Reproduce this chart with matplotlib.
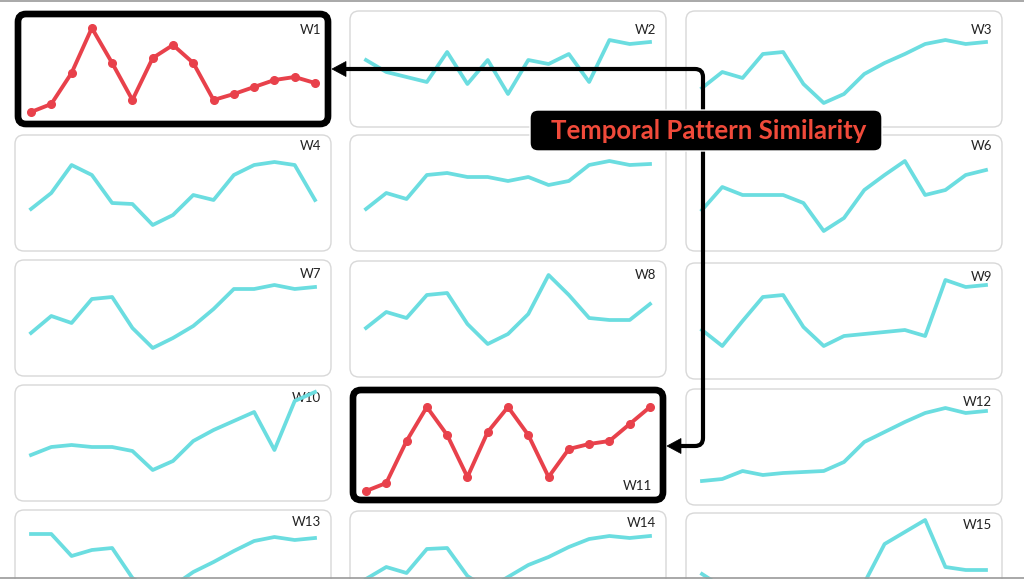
import numpy as np
import matplotlib.pyplot as plt
from matplotlib.patches import FancyBboxPatch, Polygon, PathPatch
from matplotlib.path import Path

plt.rcParams['font.family'] = ['Lato', 'DejaVu Sans']

W, H = 1024, 579

# weekly profiles (height above panel floor)
names = ['W1', 'W2', 'W3', 'W4', 'W5', 'W6', 'W7', 'W8', 'W9', 'W10',
         'W11', 'W12', 'W13', 'W14', 'W15']
w1 = [15, 23, 54, 99, 64, 27, 69, 82, 64, 27, 33, 40, 47, 50, 44]
w2 = [67, 55, 50, 45, 75, 43, 67, 33, 67, 63, 73, 45, 87, 83, 85]
w3 = [39, 55, 49, 73, 75, 43, 24, 33, 53, 64, 73, 83, 87, 83, 85]
w4 = [42, 58, 86, 76, 48, 47, 26, 36, 56, 51, 76, 86, 89, 86, 51]
w5 = [42, 58, 52, 76, 78, 74, 74, 70, 74, 66, 70, 86, 90, 86, 87]
w6 = [41, 64, 56, 56, 56, 48, 20, 33, 61, 76, 90, 56, 61, 76, 81]
w7 = [43, 60, 53, 77, 79, 48, 28, 38, 50, 67, 87, 87, 91, 87, 89]
w8 = [49, 65, 59, 82, 84, 53, 33, 43, 63, 102, 82, 59, 57, 57, 73]
w9 = [49, 33, 58, 82, 84, 52, 33, 43, 45, 47, 49, 43, 99, 92, 94]
w10 = [46, 54, 56, 54, 54, 50, 31, 40, 60, 71, 80, 89, 51, 100, 109]
w11 = [12, 20, 62, 96, 68, 26, 71, 96, 68, 26, 54, 59, 62, 79, 96]
w12 = [24, 26, 34, 30, 32, 33, 34, 43, 63, 73, 83, 92, 97, 92, 94]
w13 = [92, 92, 70, 76, 78, 48, 35, 40, 54, 64, 75, 85, 89, 86, 88]
w14 = [48, 60, 54, 78, 79, 51, 38, 50, 62, 70, 80, 88, 91, 89, 91]
w15 = [55, 42, 35, 30, 28, 30, 32, 38, 46, 85, 97, 109, 62, 59, 59]
series = [w1, w2, w3, w4, w5, w6, w7, w8, w9, w10, w11, w12, w13, w14, w15]
highlight = ['W1', 'W11']
hidden_labels = ['W5']   # sits under the title box in the original
title = 'Temporal Pattern Similarity'

# layout in pixels
col_left = [15, 350, 686]
col_tops = [[11, 135, 260, 385, 510],
            [11, 135, 261, 387, 511],
            [11, 135, 263, 389, 513]]
label_dy = [13, 5, 8, 7, 6]
panel_w, panel_h = 316, 116
pad = 16

cyan = '#6bdde0'
red = '#e8414b'

fig = plt.figure(figsize=(W / 100, H / 100), dpi=100)
bg = fig.add_axes([0, 0, 1, 1], label='bg')
bg.set_xlim(0, W)
bg.set_ylim(H, 0)
bg.axis('off')

for i, (name, vals) in enumerate(zip(names, series)):
    r, c = divmod(i, 3)
    x0 = col_left[c]
    y0 = col_tops[c][r]
    hot = name in highlight

    # panel frame
    if hot:
        frame = FancyBboxPatch((x0 + 3, y0 + 3), panel_w - 6, panel_h - 6,
                               boxstyle='round,pad=0,rounding_size=8',
                               fc='white', ec='black', lw=4.8, zorder=2)
    else:
        frame = FancyBboxPatch((x0, y0), panel_w, panel_h,
                               boxstyle='round,pad=0,rounding_size=9',
                               fc='white', ec='#d8d8d8', lw=1.0, zorder=1)
    bg.add_patch(frame)

    # label
    if name == 'W11':
        bg.text(x0 + panel_w - 14, y0 + panel_h - 11, name, ha='right',
                va='bottom', fontsize=9.5, color='#222222', zorder=3)
    elif name not in hidden_labels:
        bg.text(x0 + panel_w - 10, y0 + label_dy[r], name, ha='right',
                va='top', fontsize=9.5, color='#222222', zorder=3)

    ax = fig.add_axes([x0 / W, 1 - (y0 + panel_h) / H, panel_w / W, panel_h / H],
                      label=name)
    ax.axis('off')
    ax.patch.set_alpha(0)
    n = len(vals)
    step = (panel_w - 2 * pad) / (n - 1)
    ax.set_xlim(-pad / step, n - 1 + pad / step)
    ax.set_ylim(0, panel_h)
    if hot:
        ax.plot(np.arange(n), vals, color=red, lw=2.8, marker='o', ms=5.5,
                solid_joinstyle='round', clip_on=False)
    else:
        ax.plot(np.arange(n), vals, color=cyan, lw=2.7,
                solid_joinstyle='round', clip_on=False)

# overlay: connector, title, edges
top = fig.add_axes([0, 0, 1, 1], label='top')
top.set_xlim(0, W)
top.set_ylim(H, 0)
top.axis('off')
top.patch.set_alpha(0)

top.plot([0, W], [0.8, 0.8], color='#9a9a9a', lw=1.2)
top.plot([0, W], [578.3, 578.3], color='#9a9a9a', lw=1.2)

verts = [(345, 69), (695, 69), (703, 69), (703, 77), (703, 438),
         (703, 446), (695, 446), (680, 446)]
codes = [Path.MOVETO, Path.LINETO, Path.CURVE3, Path.CURVE3, Path.LINETO,
         Path.CURVE3, Path.CURVE3, Path.LINETO]
top.add_patch(PathPatch(Path(verts, codes), fill=False, ec='black', lw=3.0,
                        capstyle='butt'))
top.add_patch(Polygon([(332, 69), (346, 61.5), (346, 76.5)], closed=True,
                      fc='black', ec='black', lw=0.5))
top.add_patch(Polygon([(667, 446), (681, 438.5), (681, 453.5)], closed=True,
                      fc='black', ec='black', lw=0.5))

top.add_patch(FancyBboxPatch((530, 110), 352, 41,
                             boxstyle='round,pad=0,rounding_size=8',
                             fc='black', ec='white', lw=1.0))
top.text(709, 131, title, ha='center', va='center', fontsize=18.5,
         fontweight='bold', color='#f04a3a')

fig.savefig('out.png', dpi=100)
